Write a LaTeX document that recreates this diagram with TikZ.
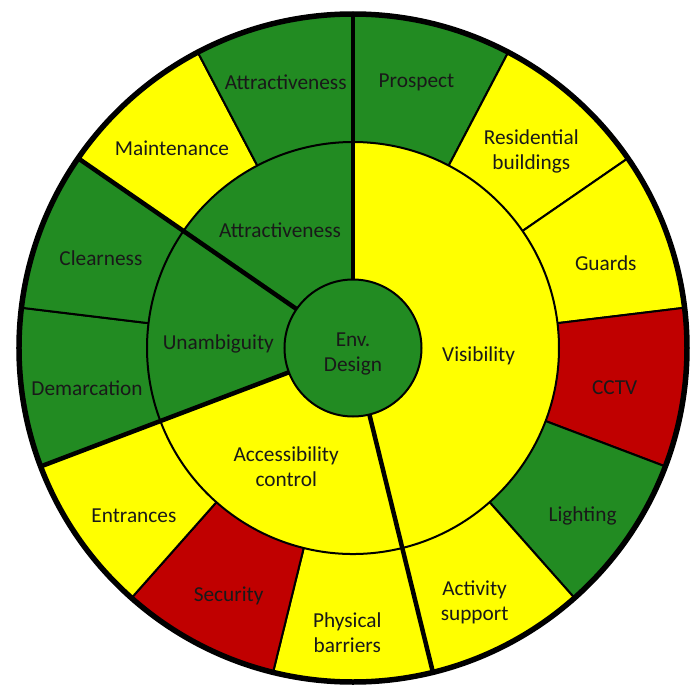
\documentclass[tikz,border=0pt]{standalone}
\usepackage{fontspec}
\setmainfont{Carlito}
\usepackage{tikz}
\usetikzlibrary{positioning}

\definecolor{chartgreen}{RGB}{34,139,34}
\definecolor{chartyellow}{RGB}{255,255,0}
\definecolor{chartred}{RGB}{192,0,0}

\tikzset{
    part/.style={draw=black, line width=2pt},
    grn/.style={part, fill=chartgreen},
    ylw/.style={part, fill=chartyellow},
    rd/.style={part, fill=chartred},
    divider/.style={draw=black, line width=4.5pt},
    lbl/.style={align=center, text=black!90, font=\fontsize{21.3}{25}\selectfont}
}

\begin{document}
\begin{tikzpicture}[x=1pt, y=1pt]
    \useasboundingbox (-353,-338) rectangle (346,348);

    % Outer ring (13 equal parts)
    \filldraw[grn] (0,0) -- (90:334) arc[start angle=90, end angle=62.308, radius=334] -- cycle;
    \filldraw[ylw] (0,0) -- (62.308:334) arc[start angle=62.308, end angle=34.615, radius=334] -- cycle;
    \filldraw[ylw] (0,0) -- (34.615:334) arc[start angle=34.615, end angle=6.923, radius=334] -- cycle;
    \filldraw[rd] (0,0) -- (6.923:334) arc[start angle=6.923, end angle=-20.769, radius=334] -- cycle;
    \filldraw[grn] (0,0) -- (-20.769:334) arc[start angle=-20.769, end angle=-48.462, radius=334] -- cycle;
    \filldraw[ylw] (0,0) -- (-48.462:334) arc[start angle=-48.462, end angle=-76.154, radius=334] -- cycle;
    \filldraw[ylw] (0,0) -- (-76.154:334) arc[start angle=-76.154, end angle=-103.846, radius=334] -- cycle;
    \filldraw[rd] (0,0) -- (-103.846:334) arc[start angle=-103.846, end angle=-131.538, radius=334] -- cycle;
    \filldraw[ylw] (0,0) -- (-131.538:334) arc[start angle=-131.538, end angle=-159.231, radius=334] -- cycle;
    \filldraw[grn] (0,0) -- (-159.231:334) arc[start angle=-159.231, end angle=-186.923, radius=334] -- cycle;
    \filldraw[grn] (0,0) -- (-186.923:334) arc[start angle=-186.923, end angle=-214.615, radius=334] -- cycle;
    \filldraw[ylw] (0,0) -- (-214.615:334) arc[start angle=-214.615, end angle=-242.308, radius=334] -- cycle;
    \filldraw[grn] (0,0) -- (-242.308:334) arc[start angle=-242.308, end angle=-270, radius=334] -- cycle;

    % Middle ring
    \filldraw[ylw] (0,0) -- (90:206) arc[start angle=90, end angle=-76.154, radius=206] -- cycle;
    \filldraw[ylw] (0,0) -- (-76.154:206) arc[start angle=-76.154, end angle=-159.231, radius=206] -- cycle;
    \filldraw[grn] (0,0) -- (-159.231:206) arc[start angle=-159.231, end angle=-214.615, radius=206] -- cycle;
    \filldraw[grn] (0,0) -- (-214.615:206) arc[start angle=-214.615, end angle=-270, radius=206] -- cycle;

    % Thick lines between the groups
    \draw[divider] (90:68.5) -- (90:334);
    \draw[divider] (-76.154:68.5) -- (-76.154:334);
    \draw[divider] (-159.231:68.5) -- (-159.231:334);
    \draw[divider] (-214.615:68.5) -- (-214.615:334);

    % Centre and rim
    \filldraw[grn] (0,0) circle[radius=68.5];
    \draw[line width=5.5pt] (0,0) circle[radius=334];

    % Labels
    \node[lbl] (envdesign) at (0,-6) {Env.\\Design};
    \node[lbl] (visibility) at (125.6,-8) {Visibility};
    \node[lbl] (access) at (-66.8,-119) {Accessibility\\control};
    \node[lbl] (unambig) at (-134.7,4) {Unambiguity};
    \node[lbl] (attractin) at (-73,118) {Attractiveness};

    \node[lbl] (attractout) at (-67.3,265.5) {Attractiveness};
    \node[lbl] (prospect) at (63.5,265.5) {Prospect};
    \node[lbl] (residential) at (178.3,197) {Residential\\buildings};
    \node[lbl] (guards) at (252.8,85) {Guards};
    \node[lbl] (cctv) at (261.7,-40) {CCTV};
    \node[lbl] (lighting) at (229.6,-168) {Lighting};
    \node[lbl] (activity) at (121.6,-254) {Activity\\support};
    \node[lbl] (barriers) at (-5.7,-285) {Physical\\barriers};
    \node[lbl] (security) at (-124.4,-248) {Security};
    \node[lbl] (entrances) at (-219.1,-167.5) {Entrances};
    \node[lbl] (demarcation) at (-266,-40.5) {Demarcation};
    \node[lbl] (clearness) at (-252.1,89.5) {Clearness};
    \node[lbl] (maintenance) at (-181.1,199.5) {Maintenance};
\end{tikzpicture}
\end{document}
